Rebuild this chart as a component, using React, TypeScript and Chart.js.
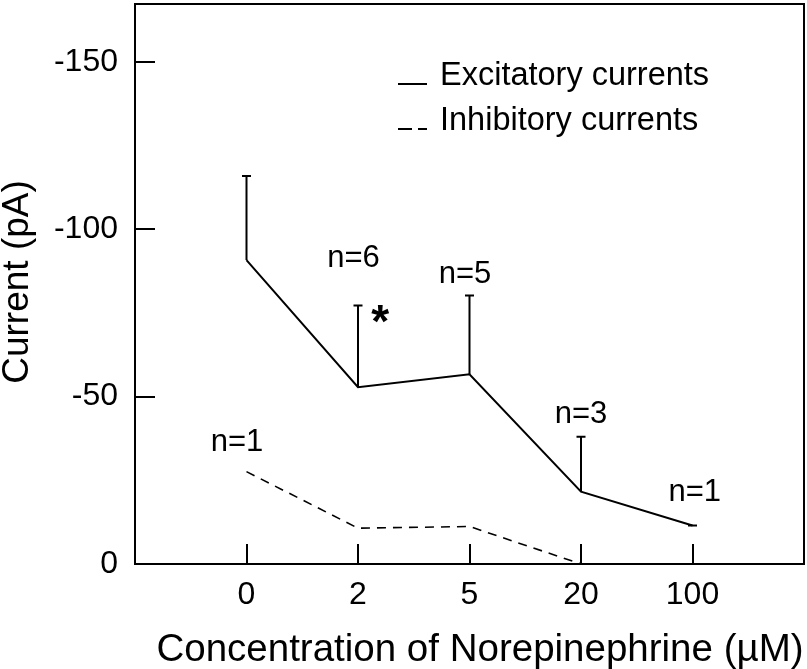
import React, { useEffect, useRef } from 'react';
import { Chart, registerables } from 'chart.js';
Chart.register(...registerables);

// ---- data ----
const categories = ['0', '2', '5', '20', '100'];
const excitatory = [-90.8, -52.8, -56.7, -21.6, -11.5];
const excitatorySem = [25.1, 24.4, 23.5, 16.4, 0];
const inhibitory = [-27.6, -10.7, -11.2, 0];
const yTicks = [-150, -100, -50, 0];
const annotationTexts = ['n=1', 'n=6', 'n=5', 'n=3', 'n=1'];
const annotationX = [-0.085, 0.96, 1.96, 3.0, 4.02];
const annotationY = [-37, -92, -87.3, -45.5, -22.1];
const starX = 1.2;
const starY = -74.8;
const legendLabels = ['Excitatory currents', 'Inhibitory currents'];
const xTitle = 'Concentration of Norepinephrine (\u00B5M)';
const yTitle = 'Current (pA)';

const FONT = '"Liberation Sans", Arial, Helvetica, sans-serif';

function drawCapCentered(ctx: CanvasRenderingContext2D, text: string, cx: number, cy: number, font: string) {
  ctx.font = font;
  const capH = ctx.measureText('H').actualBoundingBoxAscent;
  ctx.textAlign = 'center';
  ctx.textBaseline = 'alphabetic';
  ctx.fillText(text, cx, cy + capH / 2);
}

const decorPlugin = {
  id: 'decor',
  afterDraw(chart: any) {
    const { ctx, chartArea, scales } = chart;
    const xs = scales.x;
    const ys = scales.y;
    const { left, right, top, bottom } = chartArea;
    ctx.save();
    ctx.strokeStyle = '#000';
    ctx.fillStyle = '#000';
    ctx.lineWidth = 2;
    ctx.setLineDash([]);
    // frame
    ctx.strokeRect(left, top, right - left, bottom - top);
    // inward x ticks
    categories.forEach((_, i) => {
      const px = Math.round(xs.getPixelForValue(i));
      ctx.beginPath();
      ctx.moveTo(px, bottom);
      ctx.lineTo(px, bottom - 20);
      ctx.stroke();
    });
    // inward y ticks
    yTicks.forEach((v) => {
      if (v === 0) return;
      const py = Math.round(ys.getPixelForValue(v));
      ctx.beginPath();
      ctx.moveTo(left, py);
      ctx.lineTo(left + 20, py);
      ctx.stroke();
    });
    // error bars (upward)
    excitatory.forEach((v, i) => {
      const px = xs.getPixelForValue(i);
      const py = ys.getPixelForValue(v);
      const pt = ys.getPixelForValue(v - excitatorySem[i]);
      ctx.beginPath();
      ctx.moveTo(px, py);
      ctx.lineTo(px, pt);
      ctx.moveTo(px - 4.5, pt);
      ctx.lineTo(px + 4.5, pt);
      ctx.stroke();
    });
    // n annotations
    annotationTexts.forEach((t, i) => {
      drawCapCentered(ctx, t, xs.getPixelForValue(annotationX[i]), ys.getPixelForValue(annotationY[i]), `31px ${FONT}`);
    });
    // asterisk
    ctx.font = `bold 46px ${FONT}`;
    const m = ctx.measureText('*');
    const sy = ys.getPixelForValue(starY);
    ctx.textAlign = 'center';
    ctx.textBaseline = 'alphabetic';
    ctx.fillText('*', xs.getPixelForValue(starX), sy - (m.actualBoundingBoxDescent - m.actualBoundingBoxAscent) / 2);
    // legend
    const lx = left + 263;
    const ly1 = top + 80;
    const ly2 = top + 125;
    ctx.beginPath();
    ctx.moveTo(lx, ly1);
    ctx.lineTo(lx + 29, ly1);
    ctx.stroke();
    ctx.beginPath();
    ctx.moveTo(lx, ly2);
    ctx.lineTo(lx + 14, ly2);
    ctx.moveTo(lx + 20, ly2);
    ctx.lineTo(lx + 29, ly2);
    ctx.stroke();
    ctx.font = `32.5px ${FONT}`;
    ctx.textAlign = 'left';
    ctx.textBaseline = 'alphabetic';
    ctx.fillText(legendLabels[0], lx + 42, ly1 + 1);
    ctx.fillText(legendLabels[1], lx + 42, ly2 + 1);
    // x title
    drawCapCentered(ctx, xTitle, 480, 647, `38.5px ${FONT}`);
    // y title
    ctx.translate(15, 282);
    ctx.rotate(-Math.PI / 2);
    drawCapCentered(ctx, yTitle, 0, 0, `37px ${FONT}`);
    ctx.restore();
  },
};

export default function App() {
  const ref = useRef<HTMLCanvasElement | null>(null);
  useEffect(() => {
    document.body.style.margin = '0';
    const canvas = ref.current;
    if (!canvas) return;
    const chart = new Chart(canvas, {
      type: 'line',
      data: {
        datasets: [
          {
            label: legendLabels[0],
            data: excitatory.map((v, i) => ({ x: i, y: v })),
            borderColor: '#000',
            borderWidth: 2,
            pointRadius: 0,
            tension: 0,
            fill: false,
            clip: false as any,
          },
          {
            label: legendLabels[1],
            data: inhibitory.map((v, i) => ({ x: i, y: v })),
            borderColor: '#000',
            borderWidth: 1.6,
            borderDash: [9, 7],
            pointRadius: 0,
            tension: 0,
            fill: false,
            clip: false as any,
          },
        ],
      },
      options: {
        responsive: false,
        animation: false,
        devicePixelRatio: 1,
        layout: { autoPadding: false, padding: { top: 4, right: 3, left: 0, bottom: 0 } },
        plugins: { legend: { display: false }, title: { display: false }, tooltip: { enabled: false } },
        scales: {
          x: {
            type: 'linear',
            min: -1,
            max: 5,
            grid: { display: false, drawTicks: false },
            border: { display: false },
            afterBuildTicks: (s: any) => {
              s.ticks = categories.map((_, i) => ({ value: i }));
            },
            afterFit: (s: any) => {
              s.height = 105;
              s.paddingLeft = 0;
              s.paddingRight = 0;
              s.paddingTop = 0;
              s.paddingBottom = 0;
            },
            ticks: {
              color: '#000',
              font: { family: FONT, size: 32 },
              padding: 12,
              maxRotation: 0,
              autoSkip: false,
              callback: (v: any) => categories[v] ?? '',
            },
          },
          y: {
            type: 'linear',
            reverse: true,
            min: -167.3,
            max: 0,
            grid: { display: false, drawTicks: false },
            border: { display: false },
            afterBuildTicks: (s: any) => {
              s.ticks = yTicks.map((v) => ({ value: v }));
            },
            afterFit: (s: any) => {
              s.width = 135;
              s.paddingLeft = 0;
              s.paddingRight = 0;
              s.paddingTop = 0;
              s.paddingBottom = 0;
            },
            ticks: {
              color: '#000',
              font: { family: FONT, size: 32 },
              padding: 17,
              callback: (v: any) => String(v),
            },
          },
        },
      },
      plugins: [decorPlugin],
    });
    const ca = chart.chartArea;
    console.log('chartArea', JSON.stringify(ca), chart.height, chart.width);
    return () => chart.destroy();
  }, []);
  return <canvas ref={ref} width={807} height={669} style={{ display: 'block' }} />;
}
